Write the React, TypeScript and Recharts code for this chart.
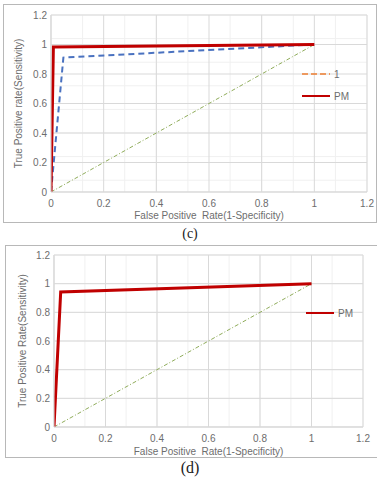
import React from "react";
import {
  LineChart,
  Line,
  XAxis,
  YAxis,
  CartesianGrid,
  Legend,
} from "recharts";

// axis ticks shared by both panels
const X_TICKS = [0, 0.2, 0.4, 0.6, 0.8, 1, 1.2];
const Y_TICKS = [0, 0.2, 0.4, 0.6, 0.8, 1, 1.2];

// panel (c)
const C_PM_X = [0, 0.009, 1];
const C_PM_Y = [0, 0.983, 1];
const C_ONE_X = [0, 0.047, 1];
const C_ONE_Y = [0, 0.911, 1];

// panel (d)
const D_PM_X = [0, 0.026, 1];
const D_PM_Y = [0, 0.942, 1];

// chance diagonal
const DIAG_X = [0, 1];
const DIAG_Y = [0, 1];

const toPoints = (xs: number[], ys: number[]) =>
  xs.map((x, i) => ({ x, y: ys[i] }));

const minorValues = Array.from({ length: 31 }, (_, i) => +(i * 0.04).toFixed(2));

const FONT = "'Liberation Sans Narrow', 'Liberation Sans', Arial, sans-serif";
const GRAY = "#6d6d6d";

type LegendItem = { name: string; color: string; dash?: string };

const makeLegend = (items: LegendItem[]) => () => (
  <div style={{ fontFamily: FONT, fontSize: 10, color: GRAY }}>
    {items.map((it) => (
      <div
        key={it.name}
        style={{ display: "flex", alignItems: "center", height: 22 }}
      >
        <svg width={28} height={4} style={{ marginRight: 4 }}>
          <line
            x1={0}
            y1={2}
            x2={28}
            y2={2}
            stroke={it.color}
            strokeWidth={it.dash ? 1.5 : 2}
            strokeDasharray={it.dash}
          />
        </svg>
        <span>{it.name}</span>
      </div>
    ))}
  </div>
);

interface RocPanelProps {
  width: number;
  height: number;
  margin: { top: number; right: number; left: number; bottom: number };
  yWidth: number;
  xHeight: number;
  yTitle: string;
  yTitleDx: number;
  xTitleDy: number;
  series: { key: string; data: { x: number; y: number }[]; color: string; width: number; dash?: string }[];
  legend: LegendItem[];
  legendPos: { left: number; top: number };
}

const tickStyle = { fontSize: 10, fontFamily: FONT, fill: GRAY };

const RocPanel = ({
  width,
  height,
  margin,
  yWidth,
  xHeight,
  yTitle,
  yTitleDx,
  xTitleDy,
  series,
  legend,
  legendPos,
}: RocPanelProps) => (
  <LineChart width={width} height={height} margin={margin}>
    <CartesianGrid
      stroke="#f0f0f0"
      horizontalValues={minorValues}
      verticalValues={minorValues}
    />
    <CartesianGrid
      stroke="#d9d9d9"
      horizontalValues={Y_TICKS}
      verticalValues={X_TICKS}
    />
    <XAxis
      type="number"
      dataKey="x"
      domain={[0, 1.2]}
      ticks={X_TICKS}
      allowDataOverflow
      height={xHeight}
      tick={tickStyle}
      tickLine={false}
      tickSize={4}
      tickMargin={4}
      axisLine={{ stroke: "#d9d9d9" }}
      label={{
        value: "False Positive\u00a0 Rate(1-Specificity)",
        position: "center",
        dy: xTitleDy,
        style: { fontSize: 10, fontFamily: FONT, fill: GRAY },
      }}
    />
    <YAxis
      type="number"
      dataKey="y"
      domain={[0, 1.2]}
      ticks={Y_TICKS}
      allowDataOverflow
      width={yWidth}
      tick={tickStyle}
      tickLine={false}
      tickSize={2}
      tickMargin={2}
      axisLine={{ stroke: "#d9d9d9" }}
      label={{
        value: yTitle,
        position: "center",
        angle: -90,
        dx: yTitleDx,
        style: { fontSize: 10, fontFamily: FONT, fill: GRAY },
      }}
    />
    <Line
      data={toPoints(DIAG_X, DIAG_Y)}
      dataKey="y"
      stroke="#8fac5a"
      strokeWidth={1}
      strokeDasharray="4 2 1 2"
      dot={false}
      legendType="none"
      isAnimationActive={false}
    />
    {series.map((s) => (
      <Line
        key={s.key}
        data={s.data}
        dataKey="y"
        name={s.key}
        stroke={s.color}
        strokeWidth={s.width}
        strokeDasharray={s.dash}
        strokeLinejoin="miter"
        dot={false}
        isAnimationActive={false}
      />
    ))}
    <Legend
      layout="horizontal"
      verticalAlign="middle"
      align="center"
      content={makeLegend(legend)}
      wrapperStyle={{ left: legendPos.left, top: legendPos.top, width: "auto" }}
    />
  </LineChart>
);

const captionStyle: React.CSSProperties = {
  position: "absolute",
  fontFamily: "'Liberation Serif', 'Times New Roman', serif",
  color: "#222",
  width: 60,
  textAlign: "center",
};

export default function App() {
  return (
    <div style={{ position: "relative", width: 377, height: 480, overflow: "hidden", background: "#fff" }}>
      <style>{"body{margin:0}"}</style>

      {/* panel (c) */}
      <div
        style={{
          position: "absolute",
          left: 3,
          top: 4,
          width: 372,
          height: 217,
          border: "1px solid #b8b8b8",
        }}
      >
        <RocPanel
          width={372}
          height={217}
          margin={{ top: 10, right: 9, left: 0, bottom: 0 }}
          yWidth={47}
          xHeight={30}
          yTitle="True Positive rate(Sensitivity)"
          yTitleDx={-9}
          xTitleDy={8}
          series={[
            { key: "1", data: toPoints(C_ONE_X, C_ONE_Y), color: "#4a72c0", width: 2, dash: "6 4" },
            { key: "PM", data: toPoints(C_PM_X, C_PM_Y), color: "#c00000", width: 3 },
          ]}
          legend={[
            { name: "1", color: "#ed7d31", dash: "6 3" },
            { name: "PM", color: "#c00000" },
          ]}
          legendPos={{ left: 298, top: 58 }}
        />
      </div>
      <div style={{ ...captionStyle, left: 160, top: 226, fontSize: 14 }}>(c)</div>

      {/* panel (d) */}
      <div
        style={{
          position: "absolute",
          left: 5,
          top: 245,
          width: 372,
          height: 211,
          border: "1px solid #b8b8b8",
        }}
      >
        <RocPanel
          width={372}
          height={211}
          margin={{ top: 9, right: 15, left: 0, bottom: 0 }}
          yWidth={48}
          xHeight={30}
          yTitle="True Positive Rate(Sensitivity)"
          yTitleDx={-8}
          xTitleDy={9}
          series={[
            { key: "PM", data: toPoints(D_PM_X, D_PM_Y), color: "#c00000", width: 3 },
          ]}
          legend={[{ name: "PM", color: "#c00000" }]}
          legendPos={{ left: 300, top: 56 }}
        />
      </div>
      <div style={{ ...captionStyle, left: 160, top: 459, fontSize: 16 }}>(d)</div>
    </div>
  );
}
